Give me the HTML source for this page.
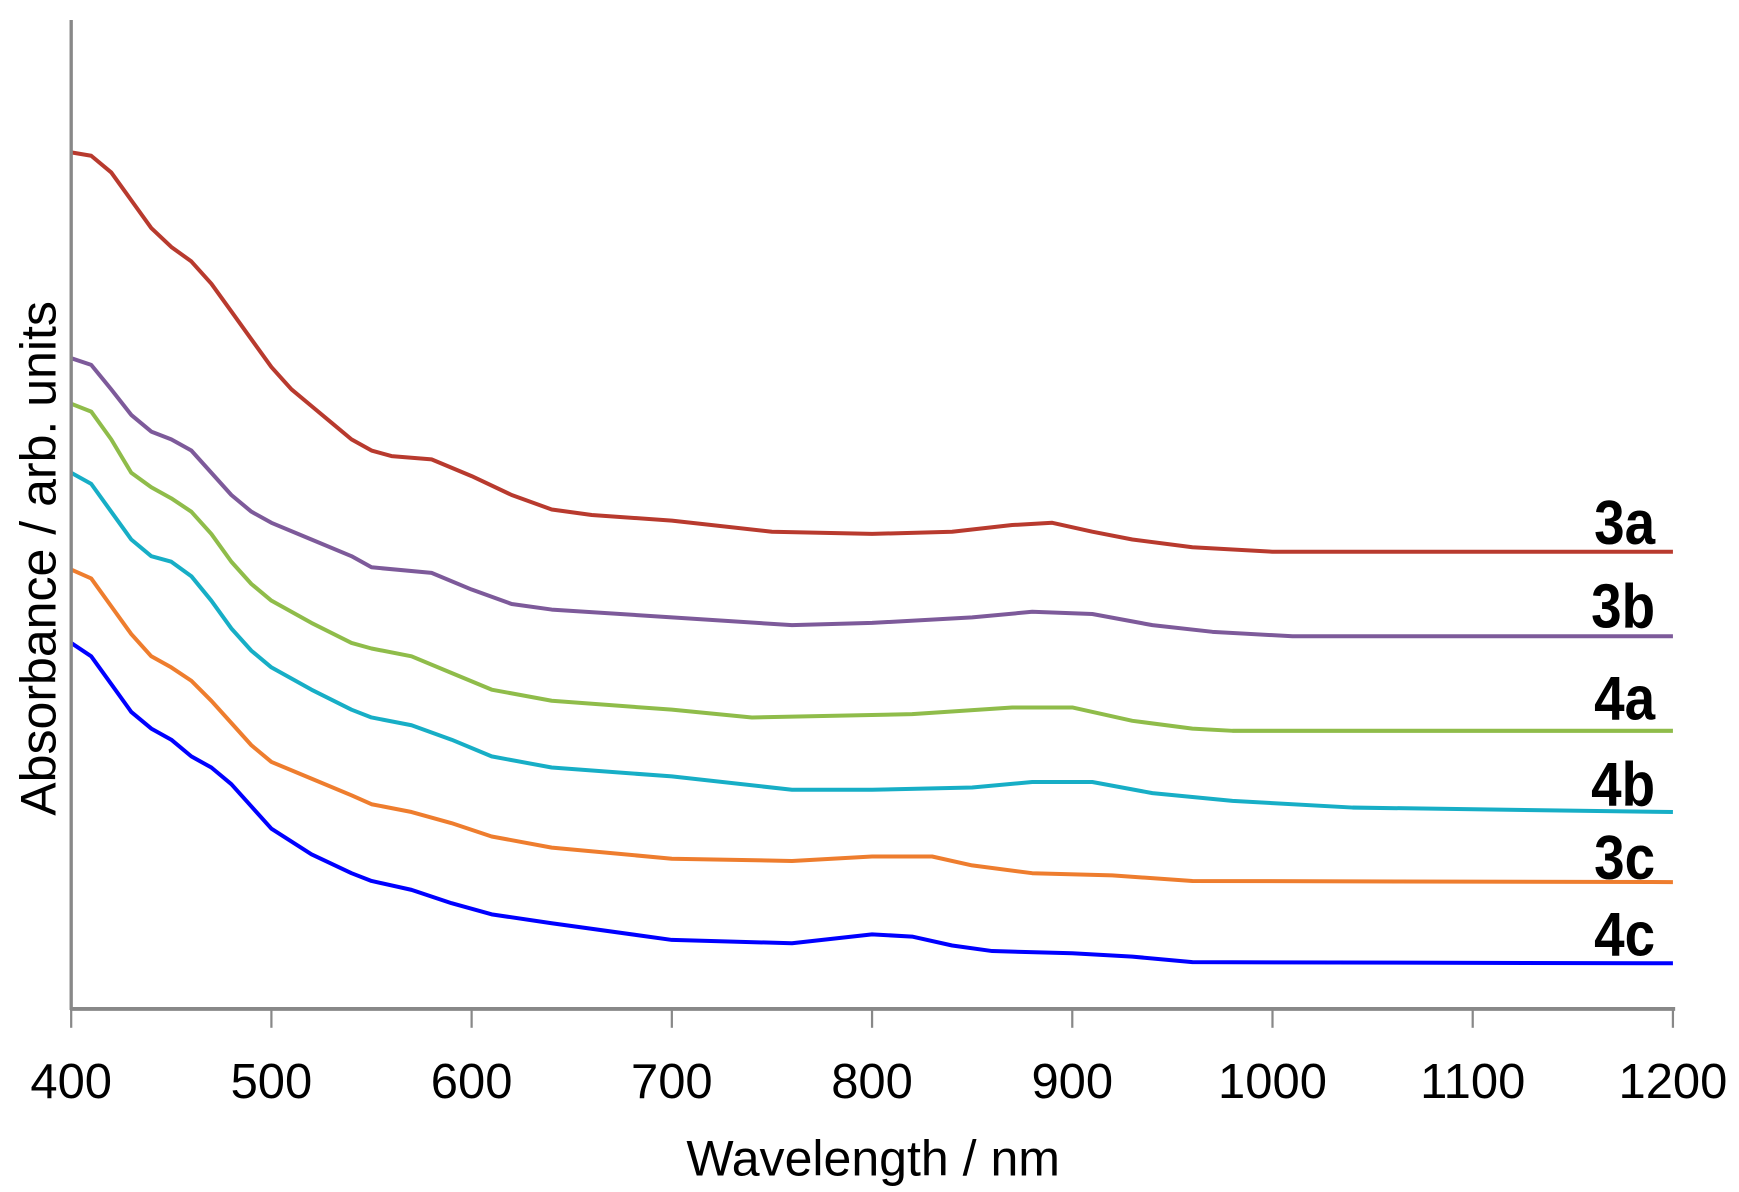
<!DOCTYPE html>
<html><head><meta charset="utf-8"><style>html,body{margin:0;padding:0;background:#fff}svg{display:block}</style></head>
<body>
<svg id="s" width="1739" height="1192" viewBox="0 0 1563.4 1071.6" xmlns="http://www.w3.org/2000/svg" font-family="Liberation Sans, sans-serif">
<g id="curves" fill="none" stroke-width="3.6" stroke-linejoin="round"></g>
<line x1="64" y1="18" x2="64" y2="908" stroke="#888" stroke-width="3"/>
<line x1="63" y1="907" x2="1506" y2="907" stroke="#888" stroke-width="3.5"/>
<g id="ticks" stroke="#888" stroke-width="2"></g>
<g font-size="44" text-anchor="middle" fill="#000">
<text x="64" y="987">400</text><text x="244" y="987">500</text><text x="424" y="987">600</text>
<text x="604" y="987">700</text><text x="784" y="987">800</text><text x="964" y="987">900</text>
<text x="1144" y="987">1000</text><text x="1324" y="987">1100</text><text x="1504" y="987">1200</text>
<text x="785" y="1057" font-size="45">Wavelength / nm</text>
<text transform="translate(50,502) rotate(-90)" font-size="45">Absorbance / arb. units</text>
</g>
<g font-size="56" font-weight="bold" text-anchor="end" fill="#000">
<text transform="translate(1488,489) scale(0.88,1)">3a</text>
<text transform="translate(1488,564) scale(0.88,1)">3b</text>
<text transform="translate(1488,647) scale(0.88,1)">4a</text>
<text transform="translate(1488,724) scale(0.88,1)">4b</text>
<text transform="translate(1488,790) scale(0.88,1)">3c</text>
<text transform="translate(1488,859) scale(0.88,1)">4c</text>
</g>
</svg>
<script>
var ns="http://www.w3.org/2000/svg";
var t=document.getElementById("ticks");
for(var i=0;i<=8;i++){var l=document.createElementNS(ns,"line");var x=64+i*180;l.setAttribute("x1",x);l.setAttribute("x2",x);l.setAttribute("y1",907);l.setAttribute("y2",924);t.appendChild(l);}
var D={
"#b83a2e":[400,137,410,140,420,155,430,180,440,205,450,222,460,235,470,255,480,280,490,305,500,330,510,350,520,365,530,380,540,395,550,405,560,410,580,413,600,428,620,445,640,458,660,463,700,468,750,478,800,480,840,478,870,472,890,470,910,478,930,485,960,492,1000,496,1200,496],
"#7d5a9a":[400,322,410,328,420,350,430,373,440,388,450,395,460,405,470,425,480,445,490,460,500,470,520,485,540,500,550,510,580,515,600,530,620,543,640,548,700,555,760,562,800,560,850,555,880,550,910,552,940,562,970,568,1010,572,1200,572],
"#8fbc4a":[400,363,410,370,420,395,430,425,440,438,450,448,460,460,470,480,480,505,490,525,500,540,520,560,540,578,550,583,570,590,590,605,610,620,640,630,700,638,740,645,820,642,870,636,900,636,930,648,960,655,980,657,1200,657],
"#17aec6":[400,425,410,435,420,460,430,485,440,500,450,505,460,518,470,540,480,565,490,585,500,600,520,620,540,638,550,645,570,652,590,665,610,680,640,690,700,698,760,710,800,710,850,708,880,703,910,703,940,713,980,720,1040,726,1200,730],
"#ee7d2e":[400,512,410,520,420,545,430,570,440,590,450,600,460,612,470,630,480,650,490,670,500,685,520,700,540,715,550,723,570,730,590,740,610,752,640,762,700,772,760,774,800,770,830,770,850,778,880,785,920,787,960,792,1200,793],
"#0000ff":[400,578,410,590,420,615,430,640,440,655,450,665,460,680,470,690,480,705,490,725,500,745,520,768,540,785,550,792,570,800,590,812,610,822,640,830,700,845,760,848,800,840,820,842,840,850,860,855,900,857,930,860,960,865,1200,866]};
var g=document.getElementById("curves");
for(var c in D){var a=D[c],p="";for(var j=0;j<a.length;j+=2){p+=(j?"L":"M")+(64+(a[j]-400)*1.8)+","+a[j+1];}
var e=document.createElementNS(ns,"path");e.setAttribute("d",p);e.setAttribute("stroke",c);g.appendChild(e);}
</script>
</body></html>
